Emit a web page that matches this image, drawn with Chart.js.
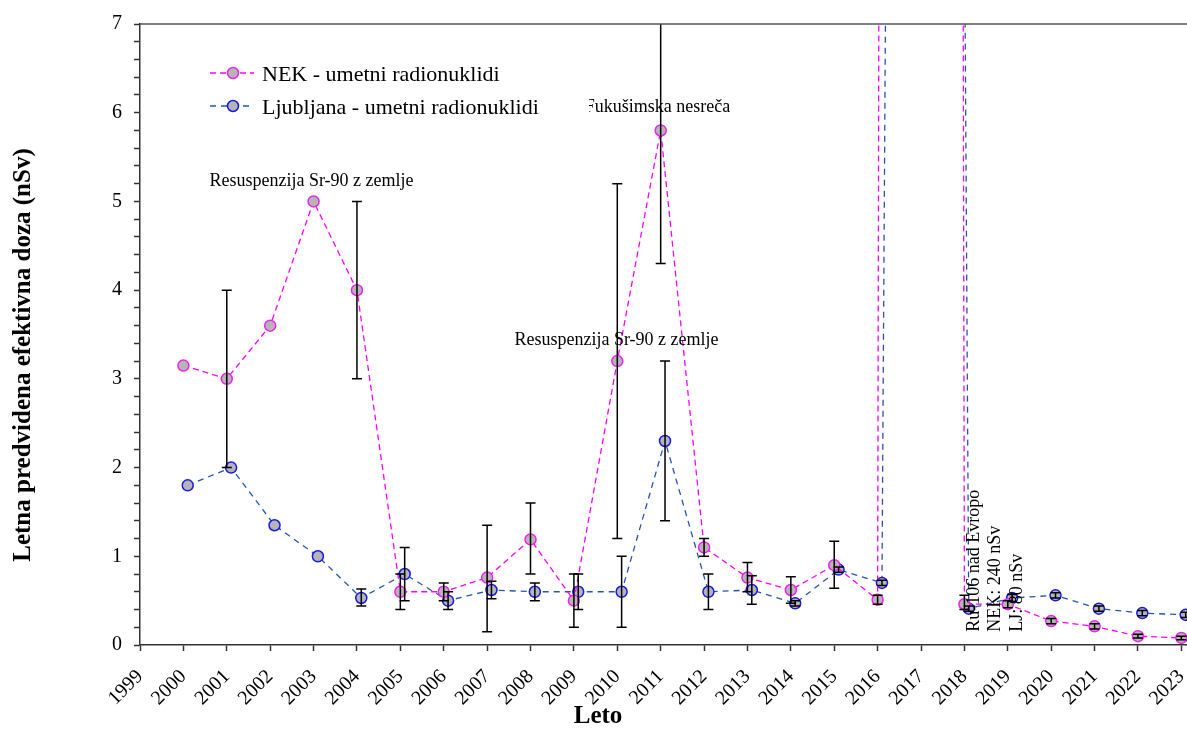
<!DOCTYPE html>
<html>
<head>
<meta charset="utf-8">
<script src="https://cdn.jsdelivr.net/npm/chart.js@4.4.1/dist/chart.umd.min.js"></script>
<style>
    html, body { margin: 0; padding: 0; background: #fff; }
    canvas { display: block; }
</style>
</head>
<body>
<canvas id="chart" width="1187" height="733"></canvas>
<script>
'use strict';

// Tick labels on the year axis (2017 has no visible point, values are off scale)
const tickYears = [1999, 2000, 2001, 2002, 2003, 2004, 2005, 2006, 2007, 2008, 2009, 2010, 2011,
    2012, 2013, 2014, 2015, 2016, 2017, 2018, 2019, 2020, 2021, 2022, 2023];
const yTickValues = [0, 1, 2, 3, 4, 5, 6, 7];

const years = [2000, 2001, 2002, 2003, 2004, 2005, 2006, 2007, 2008, 2009, 2010, 2011,
    2012, 2013, 2014, 2015, 2016, 2017, 2018, 2019, 2020, 2021, 2022, 2023];

// nSv, NEK - umetni radionuklidi
const nekValues = [3.15, 3.0, 3.6, 5.0, 4.0, 0.6, 0.6, 0.76, 1.19, 0.5, 3.2, 5.8,
    1.1, 0.76, 0.62, 0.9, 0.51, 240, 0.46, 0.46, 0.27, 0.21, 0.1, 0.08];
const nekLow = [null, 2.0, null, null, 3.0, 0.4, 0.5, 0.15, 0.8, 0.2, 1.2, 4.3,
    1.0, 0.6, 0.47, 0.64, 0.46, null, 0.4, 0.42, 0.24, 0.18, 0.08, 0.06];
const nekHigh = [null, 4.0, null, null, 5.0, 0.8, 0.7, 1.35, 1.6, 0.8, 5.2, 7.3,
    1.2, 0.93, 0.77, 1.17, 0.56, null, 0.56, 0.5, 0.3, 0.24, 0.12, 0.1];

// nSv, Ljubljana - umetni radionuklidi
const ljValues = [1.8, 2.0, 1.35, 1.0, 0.53, 0.8, 0.5, 0.62, 0.6, 0.6, 0.6, 2.3,
    0.6, 0.62, 0.47, 0.85, 0.7, 80, 0.41, 0.53, 0.56, 0.41, 0.36, 0.34];
const ljLow = [null, null, null, null, 0.44, 0.5, 0.4, 0.52, 0.5, 0.4, 0.2, 1.4,
    0.4, 0.46, 0.44, 0.82, 0.67, null, 0.38, 0.49, 0.53, 0.38, 0.33, 0.31];
const ljHigh = [null, null, null, null, 0.63, 1.1, 0.6, 0.72, 0.7, 0.8, 1.0, 3.2,
    0.8, 0.78, 0.5, 0.88, 0.73, null, 0.44, 0.57, 0.59, 0.44, 0.39, 0.37];

const seriesNames = ['NEK - umetni radionuklidi', 'Ljubljana - umetni radionuklidi'];

// Text notes, anchored in data units (year, nSv)
const notes = [
    {text: ['Resuspenzija Sr-90 z zemlje'], x: 2000.6, y: 5.17},
    {text: ['Resuspenzija Sr-90 z zemlje'], x: 2007.63, y: 3.38},
    {text: ['Fukušimska nesreča'], x: 2009.25, y: 6.01},
    {text: ['Ru-106 nad Evropo', 'NEK: 240 nSv', 'LJ: 80 nSv'], x: 2018.33, y: 0.15, rotate: true},
];

const serif = '"Liberation Serif", "Times New Roman", serif';
const ljShift = 0.1;  // Ljubljana markers sit a bit right of the year tick

const errorBars = {
    id: 'errorBars',
    afterDatasetsDraw(chart) {
        const {ctx, chartArea: a, scales: {y}} = chart;
        ctx.save();
        ctx.beginPath();
        ctx.rect(a.left, a.top, a.right - a.left, a.bottom - a.top);
        ctx.clip();
        ctx.strokeStyle = '#000';
        ctx.lineWidth = 1.5;
        chart.data.datasets.forEach((ds, di) => {
            const meta = chart.getDatasetMeta(di);
            ds.errLow.forEach((lo, i) => {
                const hi = ds.errHigh[i];
                if (lo == null || hi == null) {
                    return;
                }
                const x = meta.data[i].x;
                const y0 = y.getPixelForValue(lo);
                const y1 = y.getPixelForValue(hi);
                ctx.beginPath();
                ctx.moveTo(x, y0);
                ctx.lineTo(x, y1);
                ctx.moveTo(x - 5, y0);
                ctx.lineTo(x + 5, y0);
                ctx.moveTo(x - 5, y1);
                ctx.lineTo(x + 5, y1);
                ctx.stroke();
            });
        });
        ctx.restore();
    }
};

const decorations = {
    id: 'decorations',
    afterDraw(chart) {
        const {ctx, chartArea: a, scales: {x, y}} = chart;
        ctx.save();
        // top frame line
        ctx.strokeStyle = '#555';
        ctx.lineWidth = 1.5;
        ctx.beginPath();
        ctx.moveTo(a.left, a.top);
        ctx.lineTo(a.right, a.top);
        ctx.stroke();

        ctx.fillStyle = '#000';
        ctx.font = `18px ${serif}`;
        ctx.textBaseline = 'alphabetic';
        ctx.textAlign = 'left';
        for (const n of notes) {
            const px = x.getPixelForValue(n.x);
            const py = y.getPixelForValue(n.y);
            if (n.rotate) {
                n.text.forEach((t, i) => {
                    ctx.save();
                    ctx.translate(px + i * 21.5, py);
                    ctx.rotate(-Math.PI / 2);
                    ctx.fillText(t, 0, 0);
                    ctx.restore();
                });
            } else {
                n.text.forEach((t, i) => ctx.fillText(t, px, py + i * 21.5));
            }
        }

        // legend box inside the plot
        ctx.fillStyle = '#fff';
        ctx.fillRect(a.left + 58, 50, 391, 80);
        chart.data.datasets.forEach((ds, i) => {
            const ly = 73 + i * 33;
            ctx.strokeStyle = ds.borderColor;
            ctx.lineWidth = ds.borderWidth;
            ctx.setLineDash(ds.borderDash);
            ctx.beginPath();
            ctx.moveTo(a.left + 70, ly);
            ctx.lineTo(a.left + 114, ly);
            ctx.stroke();
            ctx.setLineDash([]);
            ctx.beginPath();
            ctx.arc(a.left + 93, ly, ds.pointRadius, 0, Math.PI * 2);
            ctx.fillStyle = ds.pointBackgroundColor;
            ctx.fill();
            ctx.strokeStyle = ds.pointBorderColor;
            ctx.lineWidth = ds.pointBorderWidth;
            ctx.stroke();
            ctx.fillStyle = '#000';
            ctx.font = `22px ${serif}`;
            ctx.fillText(ds.label, a.left + 122, ly + 8);
        });

        // axis titles
        ctx.font = `bold 25px ${serif}`;
        ctx.textAlign = 'center';
        ctx.fillText('Leto', 598, 723);
        ctx.translate(30, 355);
        ctx.rotate(-Math.PI / 2);
        ctx.fillText('Letna predvidena efektivna doza (nSv)', 0, 0);
        ctx.restore();
    }
};

function makeDataset(label, values, low, high, shift, lineColor, markerColor, dash) {
    return {
        label,
        data: years.map((yr, i) => ({x: yr + shift, y: values[i]})),
        errLow: low,
        errHigh: high,
        borderColor: lineColor,
        borderWidth: 1.3,
        borderDash: dash,
        pointRadius: 5.5,
        pointBorderWidth: 1.5,
        pointBackgroundColor: '#b5b5b5',
        pointBorderColor: markerColor,
        tension: 0,
    };
}

new Chart(document.getElementById('chart'), {
    type: 'line',
    data: {
        datasets: [
            makeDataset(seriesNames[0], nekValues, nekLow, nekHigh, 0, '#ff00ff', '#f020f0', [6, 4]),
            makeDataset(seriesNames[1], ljValues, ljLow, ljHigh, ljShift, '#2455ad', '#1818e8', [6, 5]),
        ]
    },
    options: {
        responsive: false,
        animation: false,
        devicePixelRatio: 1,
        layout: {autoPadding: false, padding: {top: 24, right: 0, left: 0, bottom: 0}},
        plugins: {
            legend: {display: false},
            tooltip: {enabled: false},
        },
        scales: {
            x: {
                type: 'linear',
                min: 1999,
                max: 2023.13,
                afterBuildTicks: s => {
                    s.ticks = tickYears.map(v => ({value: v}));
                },
                afterFit: s => {
                    s.height = 88;
                    s.paddingLeft = 0;
                    s.paddingRight = 0;
                },
                ticks: {
                    autoSkip: false,
                    minRotation: 45,
                    maxRotation: 45,
                    padding: 14,
                    color: '#000',
                    font: {family: serif, size: 20},
                    callback: (v, i) => String(tickYears[i]),
                },
                grid: {drawOnChartArea: false, drawTicks: true, tickLength: 6, tickWidth: 1.5, color: '#333'},
                border: {color: '#333', width: 1.5},
            },
            y: {
                min: 0,
                max: 7,
                afterFit: s => {
                    s.width = 140;
                    s.paddingTop = 0;
                    s.paddingBottom = 0;
                },
                ticks: {
                    stepSize: 0.2,
                    autoSkip: false,
                    padding: 12,
                    color: '#000',
                    font: {family: serif, size: 20},
                    callback: v => {
                        const k = yTickValues.find(t => Math.abs(t - v) < 1e-6);
                        return k === undefined ? '' : String(k);
                    },
                },
                grid: {drawOnChartArea: false, drawTicks: true, tickLength: 6, tickWidth: 1.5, color: '#333'},
                border: {color: '#333', width: 1.5},
            }
        }
    },
    plugins: [errorBars, decorations]
});
</script>
</body>
</html>
